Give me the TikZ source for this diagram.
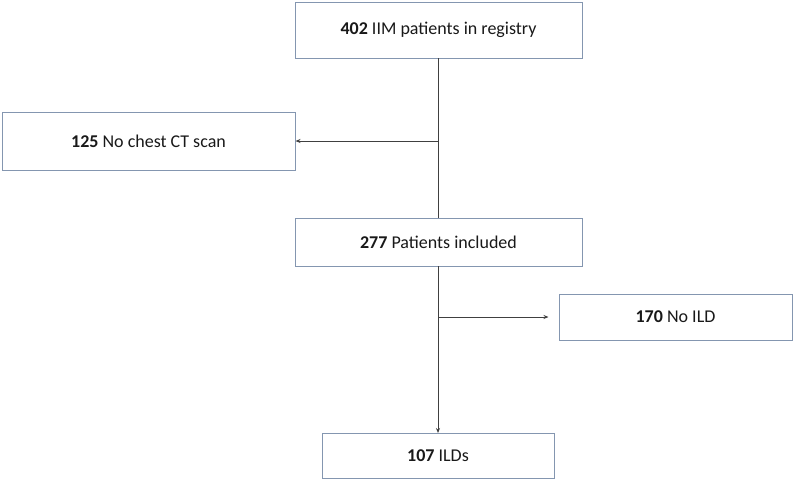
\documentclass[tikz,border=0pt]{standalone}
\usepackage{fontspec}
\setmainfont{Carlito}
\usetikzlibrary{arrows.meta}
\definecolor{boxline}{HTML}{8496B0}
\definecolor{conn}{HTML}{404040}
\begin{document}
\begin{tikzpicture}[x=1pt,y=-1pt,
  flowbox/.style={draw=boxline,line width=1pt,fill=white,inner sep=0pt,
    font=\fontsize{18}{21}\selectfont,text=black!90},
  link/.style={draw=conn,line width=1pt},
  arr/.style={link,-{Stealth[length=5pt,width=4pt]}}]
\useasboundingbox[fill=white] (0,0) rectangle (794,480);
\node[flowbox,minimum width=287pt,minimum height=56pt] (b1) at (438.5,30) {\textbf{402} IIM patients in registry};
\node[flowbox,minimum width=293pt,minimum height=58pt] (b2) at (148.5,141) {\textbf{125} No chest CT scan};
\node[flowbox,minimum width=287pt,minimum height=48pt] (b3) at (438.5,242) {\textbf{277} Patients included};
\node[flowbox,minimum width=233pt,minimum height=46pt] (b4) at (675.5,317) {\textbf{170} No ILD};
\node[flowbox,minimum width=232pt,minimum height=45pt] (b5) at (438,455.5) {\textbf{107} ILDs};
\coordinate (j1) at (438,141);
\coordinate (j2) at (438,317);
\draw[link] (438,58) -- (438,218);
\draw[arr] (j1) -- (b2.east);
\draw[arr] (438,266) -- (438,433);
\draw[arr,shorten >=10pt] (j2) -- (b4.west);
\end{tikzpicture}
\end{document}
